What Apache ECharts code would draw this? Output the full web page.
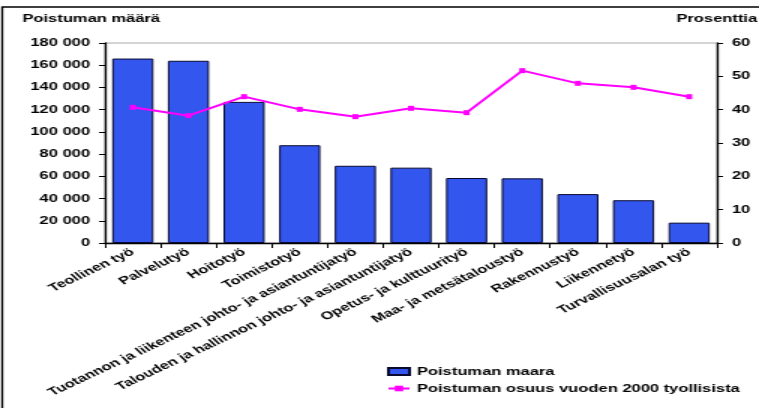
<!DOCTYPE html>
<html>
<head>
<meta charset="utf-8">
<script src="https://cdn.jsdelivr.net/npm/echarts@6/dist/echarts.min.js"></script>
<style>
html,body{margin:0;padding:0;background:#fff;overflow:hidden;}
#c{width:506px;height:408px;transform:scaleX(1.5);transform-origin:0 0;}
</style>
</head>
<body>
<div id="c"></div>
<script>
const categories = [
  'Teollinen työ',
  'Palvelutyö',
  'Hoitotyö',
  'Toimistotyö',
  'Tuotannon ja liikenteen johto- ja asiantuntijatyö',
  'Talouden ja hallinnon johto- ja asiantuntijatyö',
  'Opetus- ja kulttuurityö',
  'Maa- ja metsätaloustyö',
  'Rakennustyö',
  'Liikennetyö',
  'Turvallisuusalan työ'
];
const poistumanMaara = [166000, 164000, 127000, 88000, 69500, 67800, 58500, 58200, 44000, 38500, 18300];
const poistumanOsuus = [40.7, 38.2, 43.9, 40.1, 37.9, 40.4, 39.1, 51.7, 47.9, 46.7, 43.9];
const seriesNames = ['Poistuman maara', 'Poistuman osuus vuoden 2000 tyollisista'];
const leftAxisTitle = 'Poistuman määrä';
const rightAxisTitle = 'Prosenttia';

const FONT = 'Liberation Sans, Arial, sans-serif';
const txt = {color:'#000', fontFamily:FONT, fontSize:11, fontWeight:'bold'};

const chart = echarts.init(document.getElementById('c'), null, {renderer:'canvas'});
chart.setOption({
  animation:false,
  backgroundColor:'#fff',
  graphic:[
    {type:'rect', shape:{x:1.5, y:7, width:700, height:600}, style:{fill:'none', stroke:'#000', lineWidth:1.3}, silent:true},
    {type:'text', left:15, top:13, style:{text:leftAxisTitle, fill:'#000', font:'bold 11px '+FONT}},
    {type:'text', left:451, top:13, style:{text:rightAxisTitle, fill:'#000', font:'bold 11px '+FONT}}
  ],
  grid:{left:70, right:28, top:43, bottom:165, show:true, borderColor:'#aaa', borderWidth:1, backgroundColor:'transparent'},
  legend:{
    orient:'vertical', left:253, top:361, itemGap:6, itemWidth:14, itemHeight:7,
    textStyle:Object.assign({}, txt, {fontSize:11}),
    data:[{name:seriesNames[0], icon:'rect'}, {name:seriesNames[1]}]
  },
  xAxis:{
    type:'category', data:categories,
    axisLine:{lineStyle:{color:'#000', width:1.3}},
    axisTick:{show:true, length:5, lineStyle:{color:'#000'}, alignWithLabel:false},
    axisLabel:Object.assign({}, txt, {rotate:35, interval:0, margin:8}),
    splitLine:{show:false}
  },
  yAxis:[
    {
      type:'value', min:0, max:180000, interval:20000,
      axisLine:{show:true, lineStyle:{color:'#000', width:1.3}},
      axisTick:{show:true, length:4, lineStyle:{color:'#000'}},
      axisLabel:Object.assign({}, txt, {margin:10, formatter:v => String(v).replace(/\B(?=(\d{3})+(?!\d))/g, ' ')}),
      splitLine:{show:false}
    },
    {
      type:'value', min:0, max:60, interval:10, position:'right',
      axisLine:{show:true, lineStyle:{color:'#000', width:1.3}},
      axisTick:{show:true, length:4, lineStyle:{color:'#000'}},
      axisLabel:Object.assign({}, txt, {margin:10}),
      splitLine:{show:false}
    }
  ],
  series:[
    {
      name:seriesNames[0], type:'bar', data:poistumanMaara, yAxisIndex:0,
      barCategoryGap:'26%',
      itemStyle:{color:'#3356ee', borderColor:'#0a0a30', borderWidth:1}
    },
    {
      name:seriesNames[1], type:'line', data:poistumanOsuus, yAxisIndex:1,
      symbol:'rect', symbolSize:[4,5],
      lineStyle:{color:'#ff00ff', width:2},
      itemStyle:{color:'#ff00ff'}
    }
  ]
});
</script>
</body>
</html>
